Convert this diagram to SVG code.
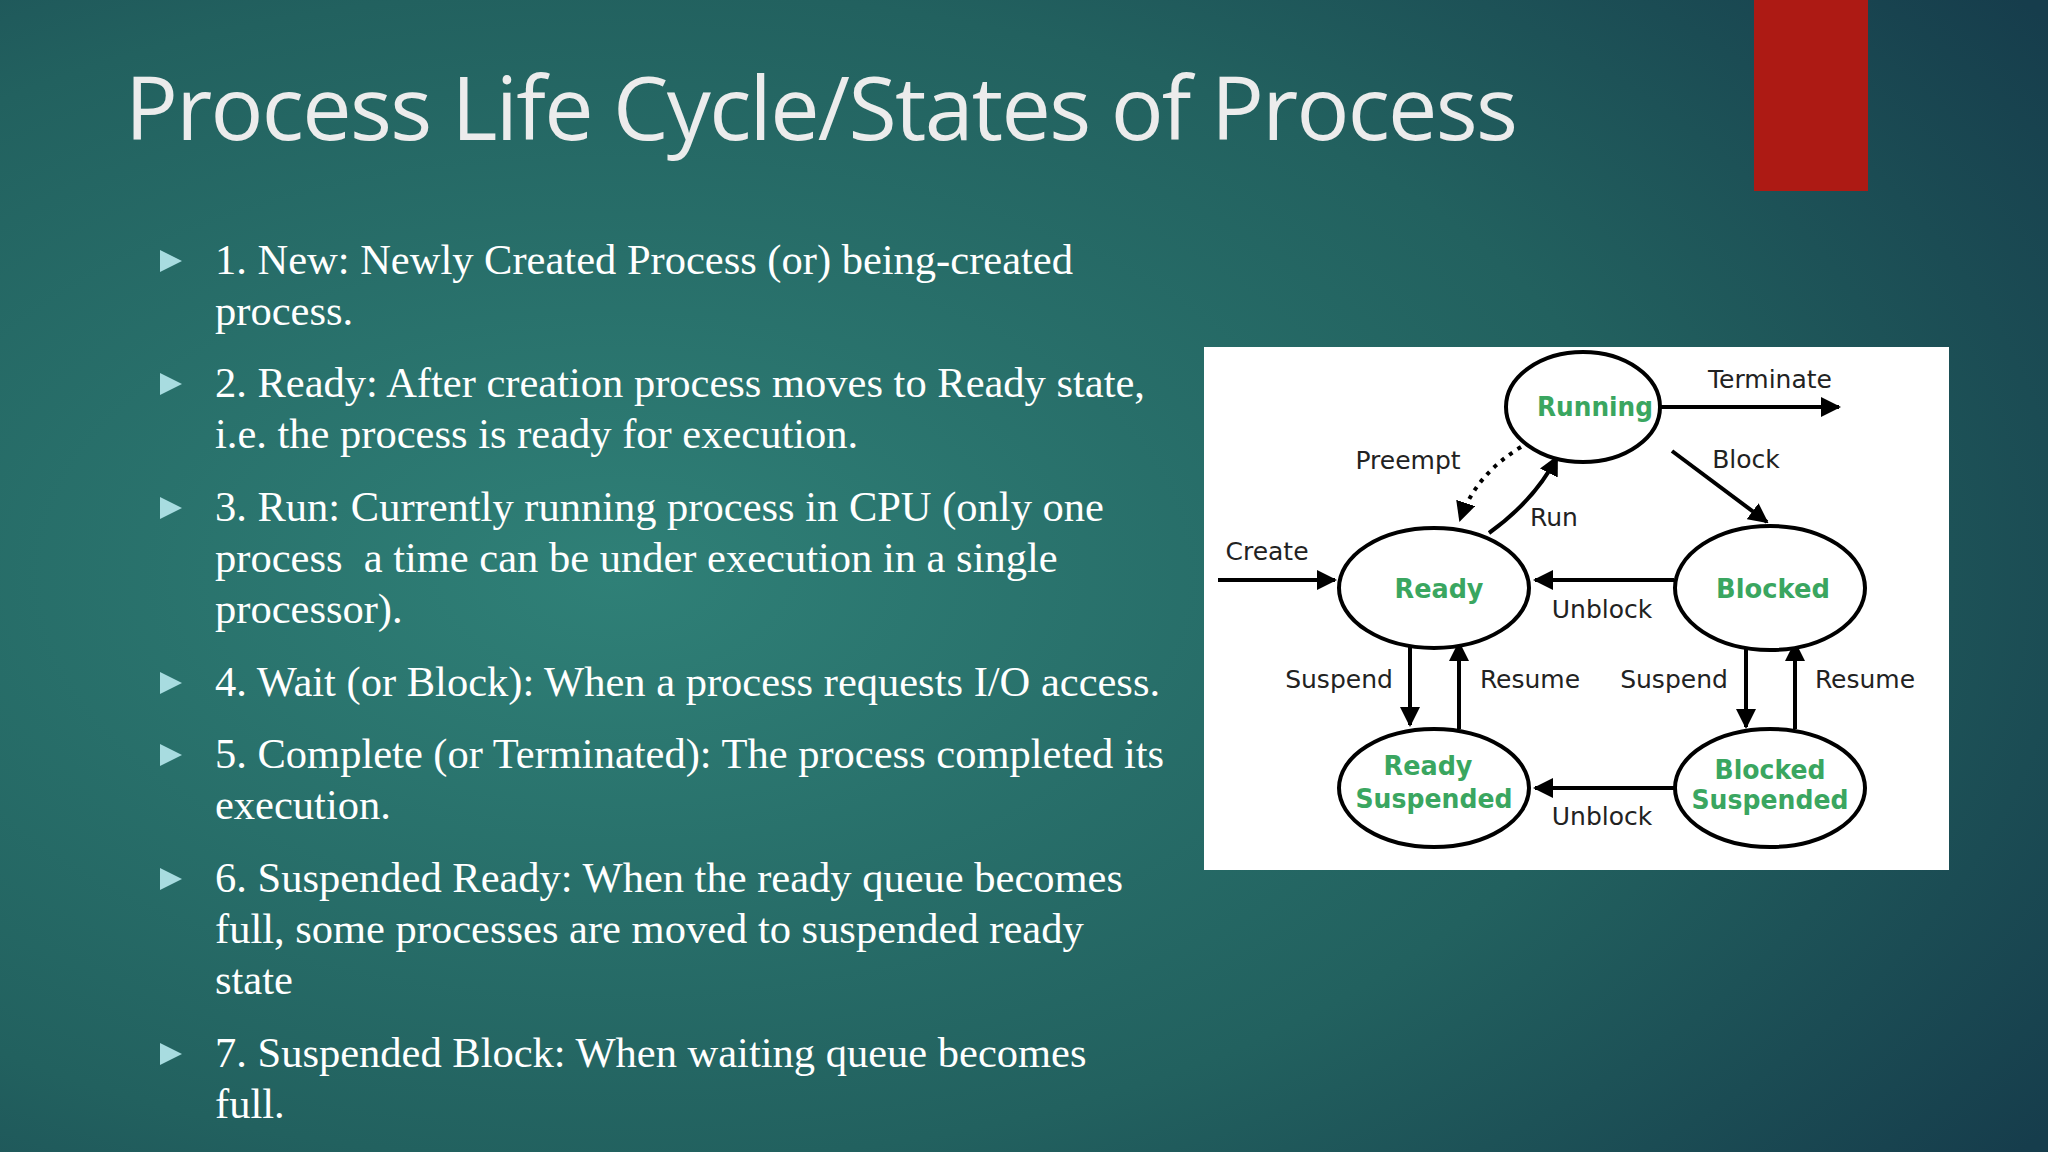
<svg xmlns="http://www.w3.org/2000/svg" width="2048" height="1152" viewBox="0 0 2048 1152">
<defs>
<radialGradient id="bg" cx="0.3" cy="0.5" r="0.85">
<stop offset="0" stop-color="#2f8077"/>
<stop offset="0.6" stop-color="#22615f"/>
<stop offset="1" stop-color="#163d4c"/>
</radialGradient>
<marker id="ah" viewBox="0 0 10 10" refX="9" refY="5" markerWidth="5" markerHeight="5" orient="auto" markerUnits="strokeWidth"><path d="M0,0 L10,5 L0,10 z" fill="#000"/></marker>
</defs>
<style>
.b{font-family:"Liberation Serif",serif;font-size:42.5px;fill:#ffffff}
.tri{fill:#a8dce0}
.n{fill:#fff;stroke:#000;stroke-width:4}
.nt{font-family:"DejaVu Sans",sans-serif;font-weight:bold;font-size:26px;fill:#3aa660;text-anchor:middle}
.l{font-family:"DejaVu Sans",sans-serif;font-size:25px;fill:#222;text-anchor:middle}
.c{fill:none;stroke:#000;stroke-width:4;marker-end:url(#ah)}
</style>
<rect width="2048" height="1152" fill="url(#bg)"/>
<rect x="1754" y="0" width="114" height="191" fill="#ad1a14"/>
<text x="125" y="140" font-family="Open Sans, sans-serif" font-size="88" fill="#ececec" textLength="1393">Process Life Cycle/States of Process</text>
<g id="bullets">
<path class="tri" d="M160,250 l22,11 l-22,11z"/>
<path class="tri" d="M160,373 l22,11 l-22,11z"/>
<path class="tri" d="M160,497 l22,11 l-22,11z"/>
<path class="tri" d="M160,672 l22,11 l-22,11z"/>
<path class="tri" d="M160,744 l22,11 l-22,11z"/>
<path class="tri" d="M160,868 l22,11 l-22,11z"/>
<path class="tri" d="M160,1043 l22,11 l-22,11z"/>
<text class="b" x="215" y="274">1. New: Newly Created Process (or) being-created</text>
<text class="b" x="215" y="325">process.</text>
<text class="b" x="215" y="397">2. Ready: After creation process moves to Ready state,</text>
<text class="b" x="215" y="448">i.e. the process is ready for execution.</text>
<text class="b" x="215" y="521">3. Run: Currently running process in CPU (only one</text>
<text class="b" x="215" y="572" xml:space="preserve">process  a time can be under execution in a single</text>
<text class="b" x="215" y="623">processor).</text>
<text class="b" x="215" y="696">4. Wait (or Block): When a process requests I/O access.</text>
<text class="b" x="215" y="768">5. Complete (or Terminated): The process completed its</text>
<text class="b" x="215" y="819">execution.</text>
<text class="b" x="215" y="892">6. Suspended Ready: When the ready queue becomes</text>
<text class="b" x="215" y="943">full, some processes are moved to suspended ready</text>
<text class="b" x="215" y="994">state</text>
<text class="b" x="215" y="1067">7. Suspended Block: When waiting queue becomes</text>
<text class="b" x="215" y="1118">full.</text>
</g>
<rect x="1204" y="347" width="745" height="523" fill="#fff"/>
<g id="connectors">
<path class="c" d="M1661,407 L1839,407"/>
<path class="c" d="M1672,451 L1767,522"/>
<path class="c" d="M1521,447 Q1475,475 1460,520" stroke-dasharray="4,6"/>
<path class="c" d="M1489,533 Q1535,500 1557,457"/>
<path class="c" d="M1218,580 L1335,580"/>
<path class="c" d="M1674,580 L1535,580"/>
<path class="c" d="M1410,640 L1410,725"/>
<path class="c" d="M1459,729 L1459,643"/>
<path class="c" d="M1746,642 L1746,727"/>
<path class="c" d="M1795,729 L1795,643"/>
<path class="c" d="M1674,788 L1535,788"/>
<text class="l" x="1770" y="388">Terminate</text>
<text class="l" x="1746" y="468">Block</text>
<text class="l" x="1408" y="469">Preempt</text>
<text class="l" x="1554" y="526">Run</text>
<text class="l" x="1267" y="560">Create</text>
<text class="l" x="1602" y="618">Unblock</text>
<text class="l" x="1339" y="688">Suspend</text>
<text class="l" x="1530" y="688">Resume</text>
<text class="l" x="1674" y="688">Suspend</text>
<text class="l" x="1865" y="688">Resume</text>
<text class="l" x="1602" y="825">Unblock</text>
</g>
<g id="running"><ellipse class="n" cx="1583" cy="407" rx="77" ry="55"/><text class="nt" x="1595" y="416" textLength="116" lengthAdjust="spacingAndGlyphs">Running</text></g>
<g id="ready"><ellipse class="n" cx="1434" cy="588" rx="95" ry="60"/><text class="nt" x="1439" y="598" textLength="89" lengthAdjust="spacingAndGlyphs">Ready</text></g>
<g id="blocked"><ellipse class="n" cx="1770" cy="588" rx="95" ry="62"/><text class="nt" x="1773" y="598" textLength="114" lengthAdjust="spacingAndGlyphs">Blocked</text></g>
<g id="readysusp"><ellipse class="n" cx="1434" cy="788" rx="95" ry="59"/><text class="nt" x="1428" y="775" textLength="89" lengthAdjust="spacingAndGlyphs">Ready</text><text class="nt" x="1434" y="808" textLength="157" lengthAdjust="spacingAndGlyphs">Suspended</text></g>
<g id="blockedsusp"><ellipse class="n" cx="1770" cy="788" rx="95" ry="59"/><text class="nt" x="1770" y="779" textLength="111" lengthAdjust="spacingAndGlyphs">Blocked</text><text class="nt" x="1770" y="809" textLength="157" lengthAdjust="spacingAndGlyphs">Suspended</text></g>
</svg>
